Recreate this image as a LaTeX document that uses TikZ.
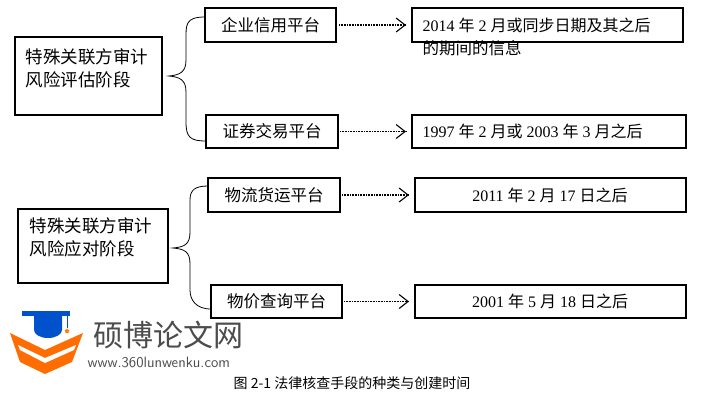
\documentclass[tikz,border=0pt]{standalone}
\usepackage{fontspec}
\setmainfont{Liberation Serif}
\newfontfamily\cjk{Noto Sans CJK SC}
\usetikzlibrary{arrows.meta,shapes.geometric}
\begin{document}
\begin{tikzpicture}[x=1pt,y=-1pt,
  bx/.style={draw,line width=1.1pt,inner sep=0pt},
  lbl/.style={font=\cjk\fontsize{16.5}{22}\selectfont},
  big/.style={font=\cjk\fontsize{17.5}{23}\selectfont},
  num/.style={font=\fontsize{16}{18}\selectfont},
  arr/.style={dash pattern=on 1pt off 0.6pt,line width=1.6pt},
  tip/.style={solid,line width=1.1pt,-{Straight Barb[length=9pt,width=14pt]}},
  brc/.style={line width=0.8pt}]
\useasboundingbox (0,0) rectangle (705,400);
% top group
\draw[bx] (15,37) rectangle (162,115);
\node[big,anchor=north west,align=left] (s1) at (22,45) {特殊关联方审计\\风险评估阶段};
\draw[bx] (205,8) rectangle (336,42); \node[lbl] (p1) at (270.5,25) {企业信用平台};
\draw[bx] (206,115) rectangle (338,148); \node[lbl] (p2) at (272,131.5) {证券交易平台};
\draw[bx] (412,8) rectangle (683,42);
\node[num,anchor=west] (r1) at (419,25) {2014 {\cjk 年} 2 {\cjk 月或同步日期及其之后}};
\node[lbl,anchor=west] (r1b) at (419,48) {的期间的信息};
\draw[bx] (412,115) rectangle (686,148);
\node[num,anchor=west] (r2) at (419,131.5) {1997 {\cjk 年} 2 {\cjk 月或} 2003 {\cjk 年} 3 {\cjk 月之后}};
\coordinate (a1s) at (339,25); \coordinate (a1t) at (403,25); \coordinate (a1e) at (406,25);
\coordinate (a2s) at (340,131.5); \coordinate (a2t) at (403,131.5); \coordinate (a2e) at (406,131.5);
\draw[arr] (a1s) -- (a1e); \draw[tip] (a1t) -- (a1e);
\draw[arr] (a2s) -- (a2e); \draw[tip] (a2t) -- (a2e);
\draw[brc] (205,17) .. controls (185,17) and (186,25) .. (186,40) -- (186,60) .. controls (186,72) and (180,75) .. (169,76)
  .. controls (180,77) and (186,80) .. (186,92) -- (186,122) .. controls (186,137) and (190,141) .. (206,141);
% bottom group
\draw[bx] (18,209) rectangle (168,283);
\node[big,anchor=north west,align=left] (s2) at (26,214) {特殊关联方审计\\风险应对阶段};
\draw[bx] (208,178) rectangle (340,212); \node[lbl] (p3) at (274,195) {物流货运平台};
\draw[bx] (211,285) rectangle (342,318); \node[lbl] (p4) at (276.5,301.5) {物价查询平台};
\draw[bx] (415,178) rectangle (686,212);
\node[num] (r3) at (550,195) {2011 {\cjk 年} 2 {\cjk 月} 17 {\cjk 日之后}};
\draw[bx] (415,285) rectangle (686,318);
\node[num] (r4) at (550,301.5) {2001 {\cjk 年} 5 {\cjk 月} 18 {\cjk 日之后}};
\coordinate (a3s) at (342,195); \coordinate (a3t) at (406,195); \coordinate (a3e) at (409,195);
\coordinate (a4s) at (344,301.5); \coordinate (a4t) at (406,301.5); \coordinate (a4e) at (409,301.5);
\draw[arr] (a3s) -- (a3e); \draw[tip] (a3t) -- (a3e);
\draw[arr] (a4s) -- (a4e); \draw[tip] (a4t) -- (a4e);
\draw[brc] (208,186) .. controls (195,186) and (190,190) .. (190,200) -- (190,232) .. controls (190,244) and (185,247) .. (173,248)
  .. controls (185,249) and (190,252) .. (190,264) -- (190,290) .. controls (190,300) and (196,309) .. (211,309);
% watermark logo
\fill[orange!85!red] (10,333) -- (45,350) -- (83,333) -- (72,362) -- (45,374) -- (20,362) -- cycle;
\fill[white] (18,345) -- (45,358) -- (76,345) -- (74,350) -- (45,363) -- (20,350) -- cycle;
\fill[blue!60!cyan!80!black] (22,311) rectangle (70,316);
\fill[blue!60!cyan!80!black] (34,316) -- (62,316) -- (62,330) arc (0:180:14 and 8) -- cycle;
\draw[blue!60!cyan!80!black,line width=0.8pt] (67,316) -- (67,328);
\node[fill=orange,star,inner sep=1.2pt] (st) at (67,331) {};
\node[font=\cjk\fontsize{30}{32}\selectfont,text=black!70,anchor=west] (wm) at (90,335) {硕博论文网};
\node[font=\sffamily\fontsize{15}{16}\selectfont,text=black!70,anchor=west] (url) at (84,362) {www.360lunwenku.com};
\node[font=\cjk\fontsize{14}{16}\selectfont] (cap) at (352,383) {图 2-1 法律核查手段的种类与创建时间};
\end{tikzpicture}
\end{document}
